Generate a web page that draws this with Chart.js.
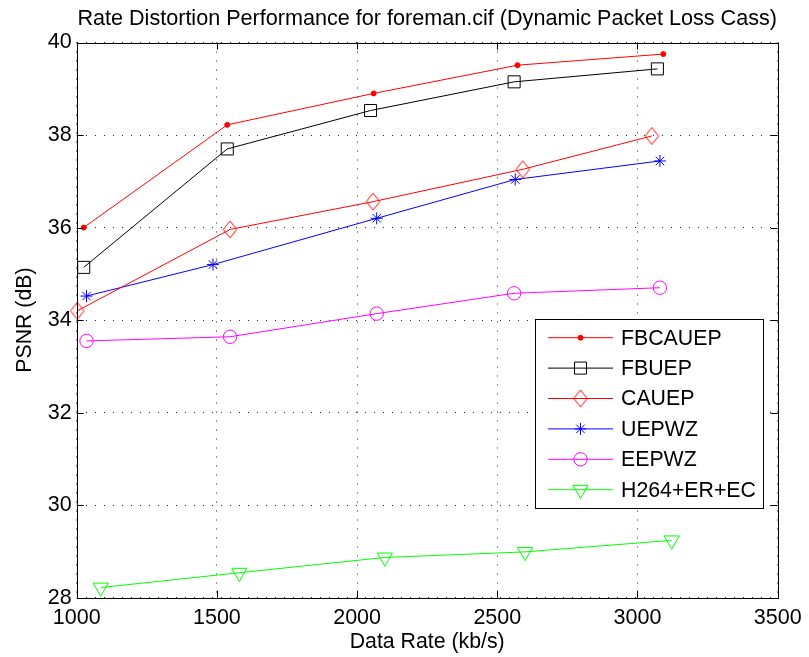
<!DOCTYPE html>
<html>
<head>
<meta charset="utf-8">
<title>Rate Distortion Performance for foreman.cif</title>
<script src="https://cdn.jsdelivr.net/npm/chart.js@4/dist/chart.umd.min.js"></script>
<style>
  html, body { margin: 0; padding: 0; background: #fff; }
  #wrap { width: 809px; height: 657px; }
</style>
</head>
<body>
<div id="wrap"><canvas id="rd" width="809" height="657"></canvas></div>
<script>
// Rate (kb/s) and PSNR (dB) measured for each scheme
const rateFBCAUEP = [1025, 1537, 2059, 2572, 3092];
const psnrFBCAUEP = [36.00, 38.22, 38.90, 39.51, 39.75];

const rateFBUEP = [1025, 1537, 2048, 2560, 3071];
const psnrFBUEP = [35.14, 37.70, 38.53, 39.15, 39.43];

const rateCAUEP = [1002, 1547, 2057, 2591, 3051];
const psnrCAUEP = [34.20, 35.96, 36.56, 37.26, 37.98];

const rateUEPWZ = [1035, 1486, 2070, 2564, 3080];
const psnrUEPWZ = [34.52, 35.20, 36.20, 37.04, 37.44];

const rateEEPWZ = [1035, 1547, 2070, 2560, 3080];
const psnrEEPWZ = [33.55, 33.64, 34.14, 34.58, 34.70];

const rateH264 = [1086, 1580, 2099, 2599, 3122];
const psnrH264 = [28.22, 28.54, 28.87, 28.99, 29.24];

const seriesNames = ['FBCAUEP', 'FBUEP', 'CAUEP', 'UEPWZ', 'EEPWZ', 'H264+ER+EC'];

// Axis ranges and tick spacing
const xRange = [1000, 3500];
const xStep = 500;
const yRange = [28, 40];
const yStep = 2;

const FONT = "'Liberation Sans', Arial, Helvetica, sans-serif";

function pts(xs, ys) { return xs.map((x, i) => ({ x: x, y: ys[i] })); }

// Open diamond marker, a little taller than it is wide
function diamondImage(color, halfW, halfH) {
  const c = document.createElement('canvas');
  c.width = Math.ceil(halfW * 2 + 2);
  c.height = Math.ceil(halfH * 2 + 2);
  const g = c.getContext('2d');
  const cx = c.width / 2, cy = c.height / 2;
  g.strokeStyle = color;
  g.lineWidth = 1;
  g.beginPath();
  g.moveTo(cx, cy - halfH);
  g.lineTo(cx + halfW, cy);
  g.lineTo(cx, cy + halfH);
  g.lineTo(cx - halfW, cy);
  g.closePath();
  g.stroke();
  return c;
}

function series(label, xs, ys, color, style, radius, extra) {
  return Object.assign({
    label: label,
    data: pts(xs, ys),
    borderColor: color,
    backgroundColor: 'rgba(0,0,0,0)',
    borderWidth: 1,
    pointStyle: style,
    pointRadius: radius,
    pointHoverRadius: radius,
    pointBorderColor: color,
    pointBackgroundColor: 'rgba(0,0,0,0)',
    pointBorderWidth: 1,
    tension: 0,
    fill: false,
    clip: false
  }, extra || {});
}

const datasets = [
  series(seriesNames[0], rateFBCAUEP, psnrFBCAUEP, '#ff0000', 'circle', 2.5,
         { pointBackgroundColor: '#ff0000' }),
  series(seriesNames[1], rateFBUEP, psnrFBUEP, '#000000', 'rect', 8.5),
  series(seriesNames[2], rateCAUEP, psnrCAUEP, '#ff0000', diamondImage('#ff0000', 6.8, 8.4), 8),
  series(seriesNames[3], rateUEPWZ, psnrUEPWZ, '#0000ff', 'star', 6),
  series(seriesNames[4], rateEEPWZ, psnrEEPWZ, '#ff00ff', 'circle', 6.7),
  series(seriesNames[5], rateH264, psnrH264, '#00ff00', 'triangle', 8.8,
         { pointRotation: 180 })
];

// Draws a legend marker using the same shapes Chart.js uses for points
function marker(ctx, ds, x, y) {
  const opts = {
    pointStyle: ds.pointStyle,
    radius: ds.pointRadius,
    rotation: ds.pointRotation || 0,
    borderWidth: ds.pointBorderWidth
  };
  ctx.save();
  ctx.strokeStyle = ds.pointBorderColor;
  ctx.fillStyle = ds.pointBackgroundColor;
  ctx.lineWidth = ds.pointBorderWidth;
  Chart.helpers.drawPoint(ctx, opts, x, y);
  ctx.restore();
}

// Box around the axes, inward tick marks and the boxed legend
const framePlugin = {
  id: 'frame',
  afterDatasetsDraw(chart) {
    const ctx = chart.ctx;
    const a = chart.chartArea;
    const xs = chart.scales.x, ys = chart.scales.y;
    const tick = 7;
    ctx.save();
    ctx.strokeStyle = '#000';
    ctx.lineWidth = 1;
    ctx.setLineDash([]);
    ctx.beginPath();
    xs.ticks.forEach(t => {
      const px = Math.round(xs.getPixelForValue(t.value)) + 0.5;
      ctx.moveTo(px, a.bottom); ctx.lineTo(px, a.bottom - tick);
      ctx.moveTo(px, a.top); ctx.lineTo(px, a.top + tick);
    });
    ys.ticks.forEach(t => {
      const py = Math.round(ys.getPixelForValue(t.value)) + 0.5;
      ctx.moveTo(a.left, py); ctx.lineTo(a.left + tick, py);
      ctx.moveTo(a.right, py); ctx.lineTo(a.right - tick, py);
    });
    ctx.stroke();
    ctx.strokeRect(Math.round(a.left) + 0.5, Math.round(a.top) + 0.5,
                   Math.round(a.right - a.left), Math.round(a.bottom - a.top));

    // legend
    const box = { left: 535.5, top: 319.5, width: 228, height: 189 };
    ctx.fillStyle = '#fff';
    ctx.fillRect(box.left, box.top, box.width, box.height);
    ctx.strokeStyle = '#000';
    ctx.strokeRect(box.left, box.top, box.width, box.height);
    const rowH = 30.4;
    const firstRow = 337.7;
    ctx.font = '21.3px ' + FONT;
    ctx.textBaseline = 'middle';
    ctx.textAlign = 'left';
    chart.data.datasets.forEach((ds, i) => {
      const y = firstRow + i * rowH;
      ctx.strokeStyle = ds.borderColor;
      ctx.lineWidth = ds.borderWidth;
      ctx.beginPath();
      ctx.moveTo(548, y); ctx.lineTo(613, y);
      ctx.stroke();
      marker(ctx, ds, 580.5, y);
      ctx.fillStyle = '#000';
      ctx.fillText(ds.label, 621, y + 1);
    });
    ctx.restore();
  }
};

new Chart(document.getElementById('rd'), {
  type: 'line',
  data: { datasets: datasets },
  plugins: [framePlugin],
  options: {
    responsive: false,
    animation: false,
    events: [],
    layout: { padding: { left: 0, right: 27.3, top: 0, bottom: 0 } },
    plugins: {
      legend: { display: false },
      tooltip: { enabled: false },
      title: {
        display: true,
        fullSize: false,
        text: 'Rate Distortion Performance for foreman.cif (Dynamic Packet Loss Cass)',
        color: '#000',
        font: { family: FONT, size: 21.6, weight: 'normal' },
        padding: { top: 6.2, bottom: 10.4 }
      }
    },
    scales: {
      x: {
        type: 'linear',
        min: xRange[0],
        max: xRange[1],
        afterFit(s) { s.height = 59.3; },
        ticks: {
          stepSize: xStep,
          color: '#000',
          padding: 7.4,
          maxRotation: 0,
          font: { family: FONT, size: 21.5 },
          callback: v => String(v)
        },
        grid: { color: '#222', lineWidth: 1, drawTicks: false },
        border: { display: false, dash: [1, 8] },
        title: {
          display: true,
          text: 'Data Rate (kb/s)',
          color: '#000',
          font: { family: FONT, size: 21.3 },
          padding: { top: 0, bottom: 2.2 }
        }
      },
      y: {
        type: 'linear',
        min: yRange[0],
        max: yRange[1],
        afterFit(s) { s.width = 76.7; },
        ticks: {
          stepSize: yStep,
          color: '#000',
          padding: 5,
          font: { family: FONT, size: 21.5 },
          callback: v => String(v)
        },
        grid: { color: '#222', lineWidth: 1, drawTicks: false },
        border: { display: false, dash: [1, 8] },
        title: {
          display: true,
          text: 'PSNR (dB)',
          color: '#000',
          font: { family: FONT, size: 21.3 },
          padding: { top: 12.2, bottom: 0 }
        }
      }
    }
  }
});
</script>
</body>
</html>
